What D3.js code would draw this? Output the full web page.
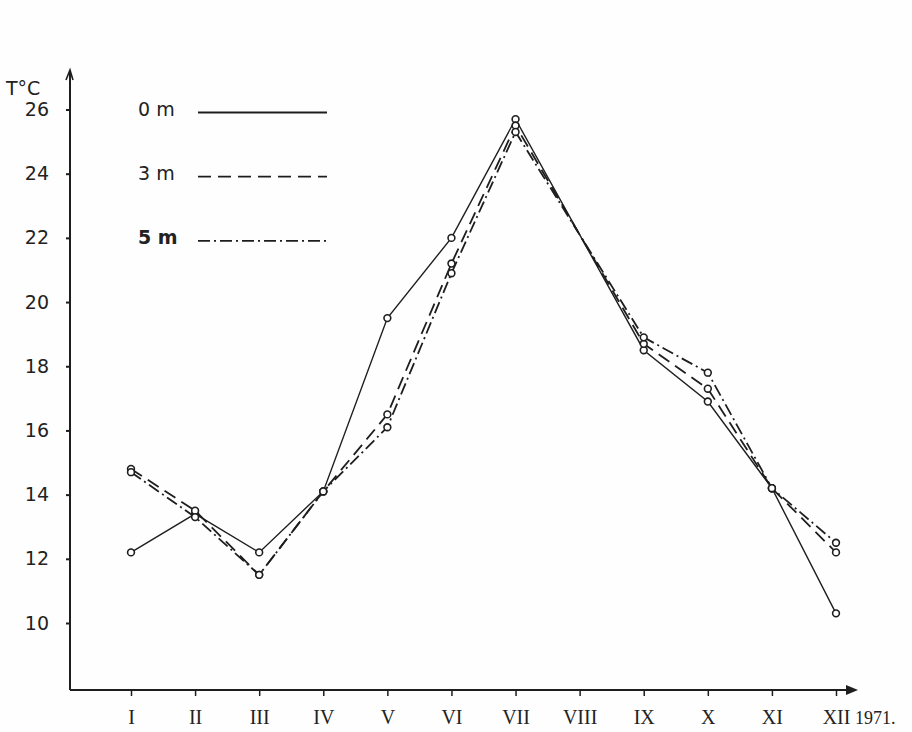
<!DOCTYPE html>
<html>
<head>
<meta charset="utf-8">
<script src="https://cdn.jsdelivr.net/npm/d3@7"></script>
<style>
  html, body { margin: 0; padding: 0; background: #fefefe; }
  svg { display: block; }
</style>
</head>
<body>
<svg id="chart" width="912" height="732"></svg>
<script>
// Monthly water temperature at three depths, 1971 (no August reading)
const months = ["I", "II", "III", "IV", "V", "VI", "VII", "VIII", "IX", "X", "XI", "XII"];
const temp0m = [12.2, 13.4, 12.2, 14.1, 19.5, 22.0, 25.7, null, 18.5, 16.9, 14.2, 10.3];
const temp3m = [14.8, 13.5, 11.5, 14.1, 16.5, 21.2, 25.5, null, 18.7, 17.3, 14.2, 12.2];
const temp5m = [14.7, 13.3, 11.5, 14.1, 16.1, 20.9, 25.3, null, 18.9, 17.8, 14.2, 12.5];
const yTicks = [10, 12, 14, 16, 18, 20, 22, 24, 26];
const depthLabels = ["0 m", "3 m", "5 m"];

const ink = "#1e1e1e";
const svg = d3.select("#chart");

const x = d3.scalePoint().domain(months).range([131, 836]);
const y = d3.scaleLinear().domain([10, 26]).range([623, 109.5]);

const axisX0 = 70, axisY0 = 690;

// axes lines with arrowheads
svg.append("line").attr("x1", axisX0).attr("y1", axisY0).attr("x2", axisX0).attr("y2", 72)
  .attr("stroke", ink).attr("stroke-width", 2);
svg.append("path").attr("d", `M${axisX0 - 4},${80} L${axisX0},${70} L${axisX0 + 3},${80}`)
  .attr("fill", "none").attr("stroke", ink).attr("stroke-width", 1.6);
svg.append("line").attr("x1", axisX0).attr("y1", axisY0).attr("x2", 852).attr("y2", axisY0)
  .attr("stroke", ink).attr("stroke-width", 1.8);
svg.append("path").attr("d", `M846,${axisY0 - 5} L858,${axisY0} L846,${axisY0 + 5} Z`)
  .attr("fill", ink);

// y axis ticks and labels
const gy = svg.append("g").attr("transform", `translate(${axisX0},0)`)
  .call(d3.axisLeft(y).tickValues(yTicks).tickSize(4).tickPadding(17));
gy.select(".domain").remove();
gy.selectAll(".tick line").attr("stroke", ink).attr("stroke-width", 2);
gy.selectAll(".tick text")
  .attr("fill", "#222").attr("font-family", "'DejaVu Sans', sans-serif").attr("font-size", 19);

svg.append("text").attr("x", 6).attr("y", 95)
  .attr("fill", "#222").attr("font-family", "'DejaVu Sans', sans-serif").attr("font-size", 19)
  .text("T°C");

// x axis ticks and month labels
const gx = svg.append("g").attr("transform", `translate(0,${axisY0})`)
  .call(d3.axisBottom(x).tickSize(6).tickPadding(14));
gx.select(".domain").remove();
gx.selectAll(".tick line").attr("stroke", ink).attr("stroke-width", 1.5);
gx.selectAll(".tick text")
  .attr("fill", "#222").attr("font-family", "'Liberation Serif', serif").attr("font-size", 20);
svg.append("text").attr("x", x("XII") + 19).attr("y", 724)
  .attr("fill", "#222").attr("font-family", "'Liberation Serif', serif").attr("font-size", 18)
  .text("1971.");

// series
const series = [
  { name: depthLabels[0], values: temp0m, dash: null, width: 1.4 },
  { name: depthLabels[1], values: temp3m, dash: "13,7", width: 1.8 },
  { name: depthLabels[2], values: temp5m, dash: "12,4,2,4", width: 1.8 }
];

const line = d3.line().x(d => x(d.m)).y(d => y(d.v));

series.forEach(s => {
  const pts = months.map((m, i) => ({ m, v: s.values[i] })).filter(d => d.v !== null);
  svg.append("path").datum(pts).attr("d", line)
    .attr("fill", "none").attr("stroke", ink).attr("stroke-width", s.width)
    .attr("stroke-dasharray", s.dash);
  svg.append("g").selectAll("circle").data(pts).join("circle")
    .attr("cx", d => x(d.m)).attr("cy", d => y(d.v)).attr("r", 3.4)
    .attr("fill", "#fff").attr("stroke", ink).attr("stroke-width", 1.6);
});

// legend
const legendY = [26, 24, 22];
series.forEach((s, i) => {
  const ly = y(legendY[i]);
  svg.append("text").attr("x", 138).attr("y", ly + 6)
    .attr("fill", "#222").attr("font-family", "'DejaVu Sans', sans-serif")
    .attr("font-size", 19).attr("font-weight", i === 2 ? "bold" : "normal")
    .text(s.name);
  svg.append("line").attr("x1", 198).attr("x2", 327).attr("y1", ly + 3).attr("y2", ly + 3)
    .attr("stroke", ink).attr("stroke-width", 1.8).attr("stroke-dasharray", s.dash);
});
</script>
</body>
</html>
